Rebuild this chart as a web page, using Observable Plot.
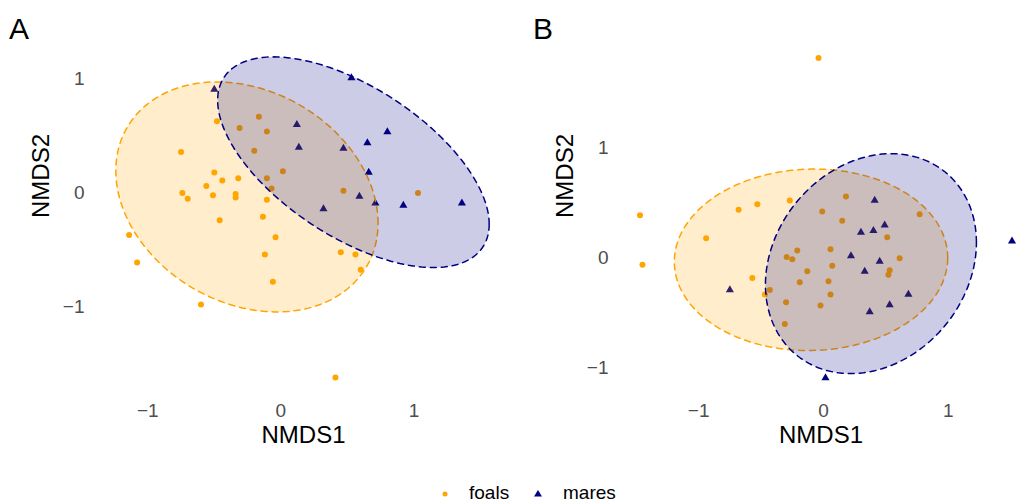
<!DOCTYPE html>
<html>
<head>
<meta charset="utf-8">
<script src="https://cdn.jsdelivr.net/npm/d3@7"></script>
<script src="https://cdn.jsdelivr.net/npm/@observablehq/plot@0.6"></script>
<style>
  html, body { margin: 0; padding: 0; background: #fff; }
  #wrap { position: relative; width: 1022px; height: 503px; font-family: "Liberation Sans", Arial, sans-serif; overflow: hidden; }
  .panel { position: absolute; top: 0; width: 511px; }
  .tag { position: absolute; font-size: 30px; line-height: 1; color: #000; }
  #legend { position: absolute; top: 483px; left: 0; width: 1022px; height: 20px; font-size: 19px; color: #000; }
  #legend span { position: absolute; top: 0; line-height: 20px; }
  svg text { font-family: "Liberation Sans", Arial, sans-serif; }
</style>
</head>
<body>
<div id="wrap">
  <div class="panel" id="pA" style="left:0"></div>
  <div class="panel" id="pB" style="left:511px"></div>
  <div class="tag" style="left:9px;top:14px">A</div>
  <div class="tag" style="left:533px;top:14px">B</div>
  <div id="legend"></div>
</div>
<script>
// ---------------- data ----------------
const groups = ["foals", "mares"];
const groupColors = ["orange", "navy"];
const xTicks = [-1, 0, 1];
const yTicks = [-1, 0, 1];

// Panel A
const aFoalsX = [-0.48,-0.165,-0.31,-0.105,-0.75,-0.20,0.015,-0.50,-0.32,-0.44,-0.105,-0.56,-0.74,-0.51,-0.34,-0.34,-0.70,-0.105,-0.07,0.47,1.03,-0.46,-0.135,-0.04,-1.14,-1.08,-0.12,0.45,0.56,0.60,-0.06,-0.60,0.41];
const aFoalsY = [0.63,0.67,0.57,0.54,0.36,0.37,0.19,0.18,0.13,0.11,0.13,0.06,0.00,-0.02,-0.01,-0.04,-0.05,-0.06,0.04,0.02,0.00,-0.24,-0.21,-0.39,-0.37,-0.61,-0.54,-0.52,-0.54,-0.675,-0.78,-0.98,-1.62];
const aMaresX = [-0.50,0.53,0.12,0.80,0.135,0.65,0.47,0.66,0.59,0.71,0.32,0.92,1.36];
const aMaresY = [0.91,1.01,0.60,0.535,0.40,0.44,0.39,0.18,-0.03,-0.09,-0.14,-0.11,-0.09];

// Panel B
const bFoalsX = [-0.04,-1.47,-1.45,-0.68,-0.53,-0.27,0.18,-0.01,0.15,0.77,-0.94,0.51,-0.21,0.056,-0.295,-0.25,0.61,0.07,-0.13,0.53,0.52,-0.57,-0.19,0.04,-0.43,-0.47,-0.30,0.056,-0.024,-0.31];
const bFoalsY = [1.82,0.39,-0.06,0.44,0.49,0.525,0.56,0.425,0.34,0.40,0.18,0.19,0.07,0.08,0.01,-0.01,0.00,-0.07,-0.12,-0.11,-0.15,-0.18,-0.22,-0.21,-0.29,-0.33,-0.40,-0.33,-0.43,-0.60];
const bMaresX = [0.41,0.49,0.40,0.30,0.22,0.45,0.33,-0.75,0.68,0.53,0.37,0.016,1.51];
const bMaresY = [0.525,0.30,0.25,0.235,0.02,-0.03,-0.12,-0.29,-0.33,-0.425,-0.49,-1.09,0.155];

// Ellipses: centre x, centre y, x half-extent, y half-extent, xy covariance  [foals, mares]
const aEllCx = [-0.255, 0.545];
const aEllCy = [-0.035, 0.27];
const aEllW  = [0.985, 1.02];
const aEllH  = [1.01, 0.925];
const aEllC  = [-0.227, -0.555];

const bEllCx = [-0.10, 0.38];
const bEllCy = [-0.015, -0.05];
const bEllW  = [1.095, 0.845];
const bEllH  = [0.825, 1.0];
const bEllC  = [0.02, 0.163];

// ---------------- helpers ----------------
function pts(xs, ys, g) { return xs.map((x, i) => ({x, y: ys[i], g})); }
function ellipse(cx, cy, W, H, C, g) {
  const a21 = C / W, a22 = Math.sqrt(Math.max(H * H - a21 * a21, 0));
  const out = [];
  for (let k = 0; k < 180; k++) {
    const t = 2 * Math.PI * k / 180;
    out.push({x: cx + W * Math.cos(t), y: cy + a21 * Math.cos(t) + a22 * Math.sin(t), g});
  }
  return out;
}

function panel(opts) {
  const foals = pts(opts.fx, opts.fy, "foals");
  const mares = pts(opts.mx, opts.my, "mares");
  const ells = [0, 1].map(i => ellipse(opts.cx[i], opts.cy[i], opts.W[i], opts.H[i], opts.C[i], groups[i]));
  return Plot.plot({
    width: 511,
    height: 470,
    marginLeft: opts.marginLeft,
    marginRight: 3,
    marginTop: 41,
    marginBottom: 76,
    style: {fontFamily: "Liberation Sans, Arial, sans-serif", background: "transparent"},
    x: {domain: opts.xDomain},
    y: {domain: opts.yDomain},
    marks: [
      Plot.axisX({ticks: xTicks, tickFormat: "d", tickSize: 0, tickPadding: 9, fontSize: 19, color: "#4d4d4d", label: null}),
      Plot.axisY({ticks: yTicks, tickFormat: "d", tickSize: 0, tickPadding: 14, fontSize: 19, color: "#4d4d4d", label: null}),
      Plot.text(["NMDS1"], {frameAnchor: "bottom", dy: 48, fontSize: 24, fill: "#000"}),
      Plot.text(["NMDS2"], {frameAnchor: "left", dx: -57, rotate: -90, fontSize: 24, fill: "#000"}),
      Plot.dot(foals, {x: "x", y: "y", r: 3, fill: groupColors[0], stroke: "none", symbol: "circle"}),
      Plot.dot(mares, {x: "x", y: "y", r: 3, fill: groupColors[1], stroke: "none", symbol: "triangle"}),
      ...ells.map((e, i) => Plot.line(e, {
        x: "x", y: "y", curve: "linear-closed",
        fill: groupColors[i], fillOpacity: 0.2,
        stroke: groupColors[i], strokeWidth: 1.5, strokeDasharray: "6,5"
      }))
    ]
  });
}

document.getElementById("pA").appendChild(panel({
  fx: aFoalsX, fy: aFoalsY, mx: aMaresX, my: aMaresY,
  cx: aEllCx, cy: aEllCy, W: aEllW, H: aEllH, C: aEllC,
  xDomain: [-1.37, 1.71], yDomain: [-1.77, 1.33], marginLeft: 98
}));
document.getElementById("pB").appendChild(panel({
  fx: bFoalsX, fy: bFoalsY, mx: bMaresX, my: bMaresY,
  cx: bEllCx, cy: bEllCy, W: bEllW, H: bEllH, C: bEllC,
  xDomain: [-1.61, 1.57], yDomain: [-1.24, 1.97], marginLeft: 111
}));

// legend
const lg = document.getElementById("legend");
lg.innerHTML =
  `<span style="left:440px"><svg width="10" height="20"><circle cx="5" cy="11" r="2.5" fill="${groupColors[0]}"/></svg></span>` +
  `<span style="left:469px">${groups[0]}</span>` +
  `<span style="left:533px"><svg width="10" height="20"><path d="M5,7 L9,13.5 L1,13.5 Z" fill="${groupColors[1]}"/></svg></span>` +
  `<span style="left:563px">${groups[1]}</span>`;
</script>
</body>
</html>
